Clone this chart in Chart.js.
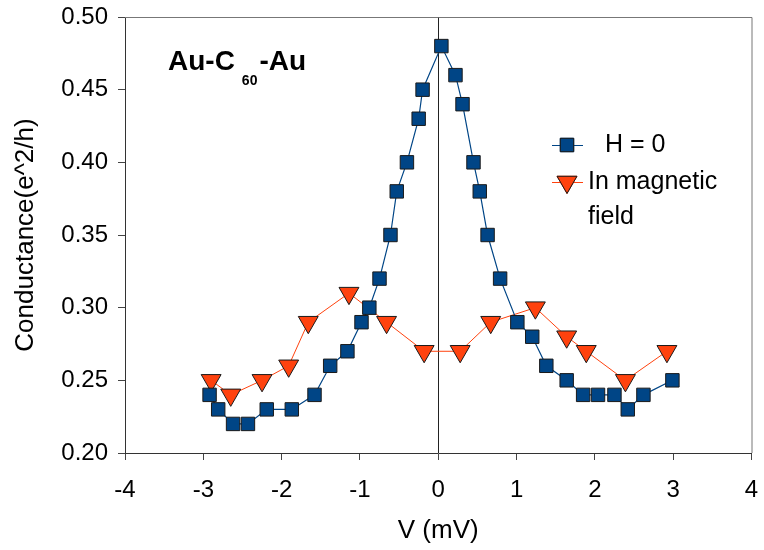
<!DOCTYPE html>
<html>
<head>
<meta charset="utf-8">
<script src="https://cdn.jsdelivr.net/npm/chart.js@4/dist/chart.umd.min.js"></script>
<style>
  html, body { margin: 0; padding: 0; background: #fff; }
  #wrap { width: 764px; height: 550px; }
</style>
</head>
<body>
<div id="wrap"><canvas id="chart" width="764" height="550"></canvas></div>
<script>
// H = 0 series
const zeroV = [-2.92, -2.81, -2.62, -2.43, -2.19, -1.87, -1.58, -1.38, -1.16, -0.98, -0.88, -0.75, -0.61, -0.53, -0.40, -0.25, -0.20, 0.04,
               0.22, 0.31, 0.45, 0.53, 0.63, 0.79, 1.01, 1.20, 1.38, 1.64, 1.85, 2.04, 2.25, 2.42, 2.62, 2.99];
const zeroG = [0.24, 0.23, 0.22, 0.22, 0.23, 0.23, 0.24, 0.26, 0.27, 0.29, 0.30, 0.32, 0.35, 0.38, 0.40, 0.43, 0.45, 0.48,
               0.46, 0.44, 0.40, 0.38, 0.35, 0.32, 0.29, 0.28, 0.26, 0.25, 0.24, 0.24, 0.24, 0.23, 0.24, 0.25];

// in magnetic field
const fieldV = [-2.90, -2.65, -2.25, -1.91, -1.66, -1.14, -0.66, -0.18, 0.28, 0.67, 1.24, 1.64, 1.89, 2.39, 2.92];
const fieldG = [0.25, 0.24, 0.25, 0.26, 0.29, 0.31, 0.29, 0.27, 0.27, 0.29, 0.30, 0.28, 0.27, 0.25, 0.27];

const xTicks = [-4, -3, -2, -1, 0, 1, 2, 3, 4];
const yTicks = [0.20, 0.25, 0.30, 0.35, 0.40, 0.45, 0.50];

const seriesNames = ["H = 0", "In magnetic field"];

const FONT = "'Liberation Sans', Arial, sans-serif";
const BLUE = "#004586";
const ORANGE = "#ff420e";
const EDGE = "#1a1a1a";

function pts(xs, ys) {
  return xs.map((x, i) => ({ x: x, y: ys[i] }));
}

// frame on top/right + title + legend drawn inside the plot
const decorations = {
  id: "decorations",
  afterDraw(chart) {
    const ctx = chart.ctx;
    const a = chart.chartArea;
    ctx.save();
    ctx.strokeStyle = "#777";
    ctx.lineWidth = 1;
    ctx.beginPath();
    ctx.moveTo(a.left, a.top + 0.5);
    ctx.lineTo(a.right + 0.5, a.top + 0.5);
    ctx.lineTo(a.right + 0.5, a.bottom);
    ctx.stroke();

    // title Au-C60-Au
    ctx.fillStyle = "#000";
    ctx.textBaseline = "alphabetic";
    ctx.textAlign = "left";
    ctx.font = "bold 28px " + FONT;
    let x = a.left + 43;
    const base = 70;
    ctx.fillText("Au-C", x, base);
    x += ctx.measureText("Au-C").width + 7;
    ctx.font = "bold 14px " + FONT;
    ctx.fillText("60", x, base + 15);
    x += ctx.measureText("60").width + 2;
    ctx.font = "bold 28px " + FONT;
    ctx.fillText("-Au", x, base);

    // legend
    const ds = chart.data.datasets;
    const rows = [
      { y: 145, textX: 605, lines: [seriesNames[0]] },
      { y: 182, textX: 588, lines: ["In magnetic", "field"] }
    ];
    rows.forEach((r, i) => {
      const d = ds[i];
      ctx.strokeStyle = d.borderColor;
      ctx.lineWidth = 1;
      ctx.beginPath();
      ctx.moveTo(552, r.y + 0.5);
      ctx.lineTo(583, r.y + 0.5);
      ctx.stroke();
      Chart.helpers.drawPoint(ctx, {
        pointStyle: d.pointStyle,
        radius: d.pointRadius,
        rotation: d.rotation || 0,
        borderWidth: 1
      }, 567, r.y);
      ctx.fillStyle = d.pointBackgroundColor;
      ctx.strokeStyle = EDGE;
      ctx.fill();
      ctx.stroke();
      ctx.fillStyle = "#000";
      ctx.font = "25px " + FONT;
      ctx.textBaseline = "middle";
      r.lines.forEach((t, k) => ctx.fillText(t, r.textX, r.y + k * 35));
    });
    ctx.restore();
  }
};

new Chart(document.getElementById("chart"), {
  type: "line",
  data: {
    datasets: [
      {
        label: seriesNames[0],
        data: pts(zeroV, zeroG),
        borderColor: BLUE,
        borderWidth: 1.2,
        pointStyle: "rect",
        pointRadius: 9.5,
        pointBackgroundColor: BLUE,
        pointBorderColor: EDGE,
        pointBorderWidth: 1,
        tension: 0
      },
      {
        label: seriesNames[1],
        data: pts(fieldV, fieldG),
        borderColor: ORANGE,
        borderWidth: 1,
        pointStyle: "triangle",
        rotation: 180,
        pointRotation: 180,
        pointRadius: 11.5,
        pointBackgroundColor: ORANGE,
        pointBorderColor: EDGE,
        pointBorderWidth: 1,
        tension: 0
      }
    ]
  },
  options: {
    responsive: false,
    animation: false,
    layout: { padding: { left: 10, right: 8, top: 17, bottom: 4 } },
    plugins: { legend: { display: false }, tooltip: { enabled: false } },
    scales: {
      x: {
        type: "linear",
        min: xTicks[0],
        max: xTicks[xTicks.length - 1],
        afterBuildTicks: s => { s.ticks = xTicks.map(v => ({ value: v })); },
        afterFit: s => { s.height = 93; s.paddingLeft = 0; s.paddingRight = 0; },
        border: { color: "#333", width: 1 },
        grid: {
          drawOnChartArea: true,
          color: c => (c.tick && c.tick.value === 0 ? "#222" : "transparent"),
          tickColor: "#444",
          tickLength: 7,
          lineWidth: 1
        },
        ticks: { color: "#000", font: { family: FONT, size: 24 }, padding: 16, maxRotation: 0 },
        title: { display: true, text: "V (mV)", color: "#000", font: { family: FONT, size: 26 }, padding: 0 }
      },
      y: {
        min: yTicks[0],
        max: yTicks[yTicks.length - 1],
        afterBuildTicks: s => { s.ticks = yTicks.map(v => ({ value: v })); },
        afterFit: s => { s.width = 115; s.paddingTop = 0; s.paddingBottom = 0; },
        border: { color: "#333", width: 1 },
        grid: { drawOnChartArea: false, tickColor: "#444", tickLength: 7 },
        ticks: {
          color: "#000",
          font: { family: FONT, size: 24 },
          padding: 10,
          callback: v => v.toFixed(2)
        },
        title: { display: true, text: "Conductance(e^2/h)", color: "#000", font: { family: FONT, size: 26 }, padding: { top: 0 } }
      }
    }
  },
  plugins: [decorations]
});
</script>
</body>
</html>
